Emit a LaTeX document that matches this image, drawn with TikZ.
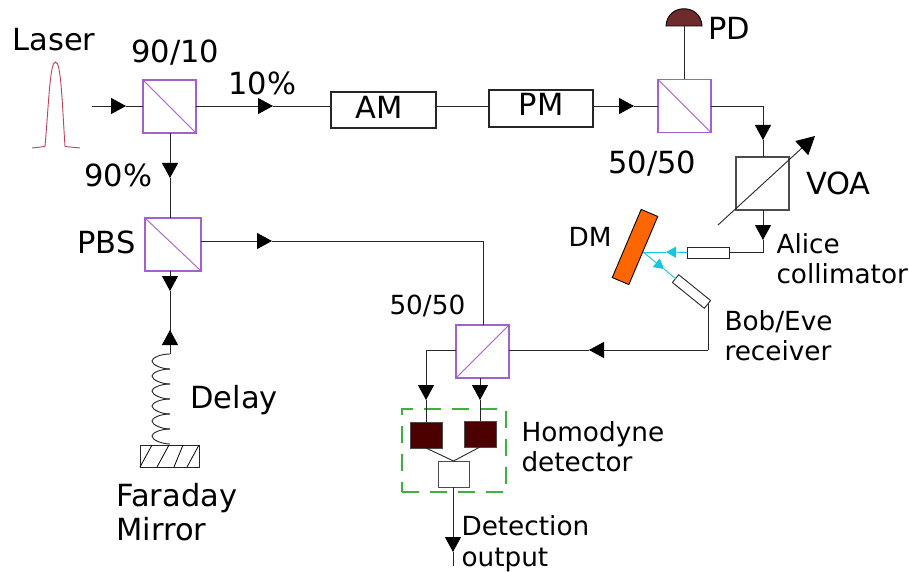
\documentclass[tikz,border=0pt]{standalone}
\usepackage{fontspec}
\setmainfont{DejaVu Sans}
\usetikzlibrary{arrows.meta}
\newcommand{\bigtxt}{\fontsize{30.5}{30.5}\selectfont}
\newcommand{\midtxt}{\fontsize{26.3}{26.3}\selectfont}
\definecolor{bspurple}{HTML}{A460CC}
\definecolor{pulsered}{HTML}{C0405A}
\definecolor{dome}{HTML}{6E2B2B}
\definecolor{detred}{HTML}{4D0000}
\definecolor{dmorange}{HTML}{FF6600}
\definecolor{beamcyan}{HTML}{10C8E4}
\definecolor{dashgreen}{HTML}{3DB03D}
\tikzset{
  x=1pt,y=-1pt,
  wire/.style={draw=black!85,line width=.9pt},
  arrowed/.style={wire,-{Triangle[length=15pt,width=16pt,fill=black,black]}},
  bscube/.style={draw=bspurple,line width=1.1pt,minimum width=53pt,minimum height=53pt,inner sep=0pt,outer sep=0pt},
  bsdiag/.style={draw=bspurple,line width=.9pt},
  device/.style={draw=black!85,line width=1.1pt,inner sep=0pt,outer sep=0pt,fill=white,font=\bigtxt},
  thinbox/.style={draw=black!85,line width=.9pt,fill=white,inner sep=0pt,outer sep=0pt},
  det/.style={draw=black!70,line width=.9pt,fill=detred,minimum width=32pt,minimum height=26pt,inner sep=0pt,outer sep=0pt},
  lab/.style={anchor=base west,inner sep=0pt,outer sep=0pt,font=\bigtxt},
  labs/.style={anchor=base west,inner sep=0pt,outer sep=0pt,font=\midtxt},
  beam/.style={draw=beamcyan,line width=.9pt},
  beamarrow/.style={beam,-{Triangle[length=10pt,width=11pt,fill=beamcyan]}},
}
\begin{document}
\begin{tikzpicture}
\useasboundingbox (0,0) rectangle (909,572);
% pulse
\draw[pulsered,line width=.9pt] (32,148) -- (45,146.5) .. controls (49,100) and (50,62) .. (55.5,62) .. controls (61,62) and (62,100) .. (65,146.5) -- (80,148);
% components
\node[bscube] (bsa) at (169.5,106.5) {};
\draw[bsdiag] (bsa.north west) -- (bsa.south east);
\node[bscube,minimum width=56pt] (pbs) at (173,244.5) {};
\draw[bsdiag] (pbs.north west) -- (pbs.south east);
\node[bscube] (bsb) at (684.5,106) {};
\draw[bsdiag] (bsb.north west) -- (bsb.south east);
\node[bscube] (bsc) at (482.5,351.5) {};
\draw[bsdiag] (bsc.south west) -- (bsc.north east);
\node[device,minimum width=105pt,minimum height=36pt] (am) at (383.5,110) {};
\node[device,minimum width=104pt,minimum height=37pt] (pm) at (541,108.5) {};
\node[draw=black!70,line width=1.1pt,minimum size=53pt,inner sep=0pt,outer sep=0pt] (voa) at (762.5,183.5) {};
\coordinate (voaa) at (718,225);
\coordinate (voab) at (815,136);
\draw[wire,-{Triangle[length=18pt,width=19pt,fill=black,black]}] (voaa) -- (voab);
\node[thinbox,minimum width=42pt,minimum height=11pt] (alice) at (708,252.5) {};
\node[thinbox,minimum width=41pt,minimum height=10pt,rotate=-39] (bob) at (691.5,291.5) {};
\node[draw=black,line width=.9pt,fill=dmorange,minimum width=74pt,minimum height=18pt,inner sep=0pt,outer sep=0pt,rotate=67] (dm) at (635,247) {};
\node[det] (dl) at (426,435) {};
\node[det] (dr) at (480,434) {};
\node[draw=black!70,line width=.9pt,fill=white,minimum width=31pt,minimum height=26pt,inner sep=0pt,outer sep=0pt] (sub) at (453.5,474) {};
\node[draw=dashgreen,line width=1.1pt,dash pattern=on 17pt off 11pt,minimum width=104pt,minimum height=83pt,inner sep=0pt,outer sep=0pt] (hd) at (454,450.5) {};
% photodiode
\coordinate (pdbase) at (684,26);
\draw[fill=dome,draw=black,line width=.9pt] (666,26) .. controls (667,3) and (701,3) .. (702,26) -- cycle;
% mirror
\node[draw=black!85,line width=.9pt,minimum width=59pt,minimum height=22pt,inner sep=0pt,outer sep=0pt] (fm) at (169.5,456) {};
\foreach \a/\b in {140/152,157/169,174/183,187/199}{\draw[line width=.8pt] (\a,467) -- (\b,445);}
% coordinates for wires
\coordinate (in) at (92,106);
\coordinate (tipa) at (126,106);
\coordinate (tipb) at (273,106);
\coordinate (tipc) at (634,106);
\coordinate (tipd) at (170,178);
\coordinate (tipe) at (272,241);
\coordinate (tipf) at (170,291);
\coordinate (tipg) at (170,330);
\coordinate (springtop) at (170,354);
\coordinate (corna) at (763,106);
\coordinate (tiph) at (763,140);
\coordinate (tipi) at (763,240);
\coordinate (cornb) at (763,252.5);
\coordinate (cornc) at (708,350);
\coordinate (tipj) at (589,350);
\coordinate (cornd) at (483,241);
\coordinate (corne) at (426,350);
\coordinate (tipk) at (426,400);
\coordinate (tipl) at (480,400);
\coordinate (tipm) at (453,552);
\coordinate (outend) at (453,566);
\coordinate (dmhit) at (643,252);
\coordinate (tipn) at (666,252);
\coordinate (tipo) at (664,269);
% wires
\draw[arrowed] (in) -- (tipa);
\draw[wire] (tipa) -- (bsa.west |- tipa);
\draw[arrowed] (bsa.east |- tipb) -- (tipb);
\draw[wire] (tipb) -- (am.west |- tipb);
\draw[wire] (am.east |- tipb) -- (pm.west |- tipb);
\draw[arrowed] (pm.east |- tipc) -- (tipc);
\draw[wire] (tipc) -- (bsb.west |- tipc);
\draw[wire] (bsb.north -| pdbase) -- (pdbase);
\draw[wire] (bsb.east |- corna) -- (corna);
\draw[arrowed] (corna) -- (tiph);
\draw[wire] (tiph) -- (voa.north -| tiph);
\draw[arrowed] (voa.south -| tipi) -- (tipi);
\draw[wire] (tipi) -- (cornb) -- (alice.east);
\draw[arrowed] (bsa.south -| tipd) -- (tipd);
\draw[wire] (tipd) -- (pbs.north -| tipd);
\draw[arrowed] (pbs.east |- tipe) -- (tipe);
\draw[wire] (tipe) -- (cornd) -- (bsc.north -| cornd);
\draw[arrowed] (pbs.south -| tipf) -- (tipf);
\draw[wire] (tipf) -- (springtop);
\draw[arrowed] (springtop) -- (tipg);
\draw[wire] (bob.east -| cornc) -- (cornc);
\draw[arrowed] (cornc) -- (tipj);
\draw[wire] (tipj) -- (bsc.east |- tipj);
\draw[wire] (bsc.west |- corne) -- (corne);
\draw[arrowed] (corne) -- (tipk);
\draw[wire] (tipk) -- (dl.north -| tipk);
\draw[arrowed] (bsc.south -| tipl) -- (tipl);
\draw[wire] (tipl) -- (dr.north -| tipl);
\draw[wire] (dl.south) -- (sub.north) -- (dr.south);
\draw[arrowed] (sub.south -| tipm) -- (tipm);
\draw[wire] (tipm) -- (outend);
% beams
\draw[beamarrow] (alice.west) -- (tipn);
\draw[beam] (tipn) -- (dmhit);
\draw[beamarrow] (dmhit) -- (tipo);
\draw[beam] (tipo) -- (bob.west);
% spring
\foreach \k in {0,...,5}{
  \pgfmathsetmacro{\ya}{354+15*\k}
  \pgfmathsetmacro{\yb}{\ya+4}
  \pgfmathsetmacro{\yc}{\ya+7}
  \pgfmathsetmacro{\yd}{\ya+11}
  \pgfmathsetmacro{\ye}{\ya+15}
  \draw[black!85,line width=.9pt] (170,\ya) .. controls (160,\ya) and (152,\yb) .. (152,\yc) .. controls (152,\yd) and (162,\ye) .. (170,\ye);
}
% labels
\node[lab] (tlaser) at (12.5,51) {Laser};
\node[lab] (t9010) at (131.5,63) {90/10};
\node[lab] (t10) at (228.5,95) {10\%};
\node[lab] (t90) at (84.5,186) {90\%};
\node[lab] (tpbs) at (77.5,253) {PBS};
\node[lab,anchor=base] (tam) at (379,119) {AM};
\node[lab,anchor=base] (tpm) at (541,116) {PM};
\node[lab] (tpd) at (708,40) {PD};
\node[lab] (t5050a) at (608.5,173) {50/50};
\node[lab] (tvoa) at (806,194) {VOA};
\node[labs] (tdm) at (568.5,246) {DM};
\node[labs] (talice) at (776.5,253) {Alice};
\node[labs] (tcoll) at (776.5,283) {collimator};
\node[labs] (tbob) at (724.5,330) {Bob/Eve};
\node[labs] (trec) at (724.5,360) {receiver};
\node[labs] (t5050b) at (389.5,314) {50/50};
\node[lab] (tdelay) at (190.5,408) {Delay};
\node[lab] (tfar) at (116.5,506) {Faraday};
\node[lab] (tmir) at (116.5,540) {Mirror};
\node[labs] (thom) at (521.5,441) {Homodyne};
\node[labs] (tdet) at (521.5,471) {detector};
\node[labs] (tdtn) at (461.5,535) {Detection};
\node[labs] (tout) at (461.5,566) {output};
\end{tikzpicture}
\end{document}
